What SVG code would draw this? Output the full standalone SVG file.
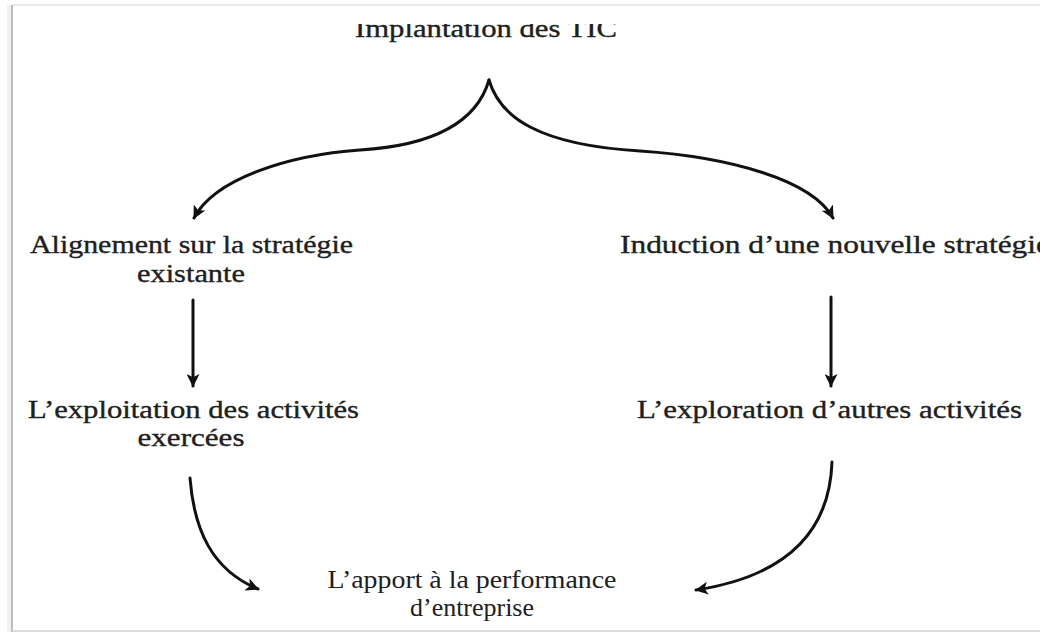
<svg xmlns="http://www.w3.org/2000/svg" width="1040" height="635" viewBox="0 0 1040 635">
  <defs>
    <style>
      .lbl { font-family: "Liberation Serif", "Times New Roman", serif; font-size: 26px; fill: #202020; stroke: #202020; stroke-width: 0.35px; }
      .lbl-sm { font-family: "Liberation Serif", "Times New Roman", serif; font-size: 25px; fill: #202020; }
      .conn { fill: none; stroke: #111; stroke-width: 3; stroke-linecap: round; }
      .frame { fill: none; stroke-width: 1.5; }
    </style>
    <marker id="head" viewBox="0 0 12 12" refX="11" refY="6" markerWidth="13" markerHeight="13" markerUnits="userSpaceOnUse" orient="auto">
      <path d="M0,0 L12,6 L0,12 L3,6 Z" fill="#111"/>
    </marker>
    <clipPath id="titleClip">
      <rect x="0" y="24" width="1040" height="40"/>
    </clipPath>
  </defs>

  <!-- page background and frame -->
  <rect x="0" y="0" width="1040" height="635" fill="#ffffff"/>
  <g id="frame">
    <rect x="7" y="5" width="5" height="627" fill="#f1f1f1"/>
    <line class="frame" x1="12" y1="5" x2="1040" y2="5" stroke="#e2e2e2"/>
    <line class="frame" x1="12" y1="5" x2="12" y2="632" stroke="#a9a9a9"/>
    <line class="frame" x1="12" y1="631" x2="1040" y2="631" stroke="#cfcfcf"/>
  </g>

  <!-- nodes -->
  <g id="node-tic" clip-path="url(#titleClip)">
    <text class="lbl" x="355" y="37" textLength="262" lengthAdjust="spacingAndGlyphs" font-size="27">Implantation des TIC</text>
  </g>

  <g id="node-alignement">
    <text class="lbl" x="30" y="253" textLength="323" lengthAdjust="spacingAndGlyphs">Alignement sur la stratégie</text>
    <text class="lbl" x="191" y="282" text-anchor="middle" textLength="108" lengthAdjust="spacingAndGlyphs">existante</text>
  </g>

  <g id="node-induction">
    <text class="lbl" x="620" y="253" textLength="430" lengthAdjust="spacingAndGlyphs">Induction d’une nouvelle stratégie</text>
  </g>

  <g id="node-exploitation">
    <text class="lbl" x="28" y="418" textLength="331" lengthAdjust="spacingAndGlyphs">L’exploitation des activités</text>
    <text class="lbl" x="191" y="446" text-anchor="middle" textLength="107" lengthAdjust="spacingAndGlyphs">exercées</text>
  </g>

  <g id="node-exploration">
    <text class="lbl" x="637" y="418" textLength="385" lengthAdjust="spacingAndGlyphs">L’exploration d’autres activités</text>
  </g>

  <g id="node-performance">
    <text class="lbl-sm" x="472" y="588" text-anchor="middle" textLength="289" lengthAdjust="spacingAndGlyphs">L’apport à la performance</text>
    <text class="lbl-sm" x="472" y="616" text-anchor="middle" textLength="124" lengthAdjust="spacingAndGlyphs">d’entreprise</text>
  </g>

  <!-- connectors -->
  <g id="connectors">
    <path class="conn" d="M489,80 C478,118 440,145 360,150 C290,155 215,178 194,218" marker-end="url(#head)"/>
    <path class="conn" d="M489,80 C500,118 540,145 640,151 C730,157 812,180 833,218" marker-end="url(#head)"/>
    <path class="conn" d="M193,300 L193,386" marker-end="url(#head)"/>
    <path class="conn" d="M831,297 L831,386" marker-end="url(#head)"/>
    <path class="conn" d="M190,478 C194,530 212,570 258,589" marker-end="url(#head)"/>
    <path class="conn" d="M832,462 C830,520 800,574 696,590" marker-end="url(#head)"/>
  </g>
</svg>
